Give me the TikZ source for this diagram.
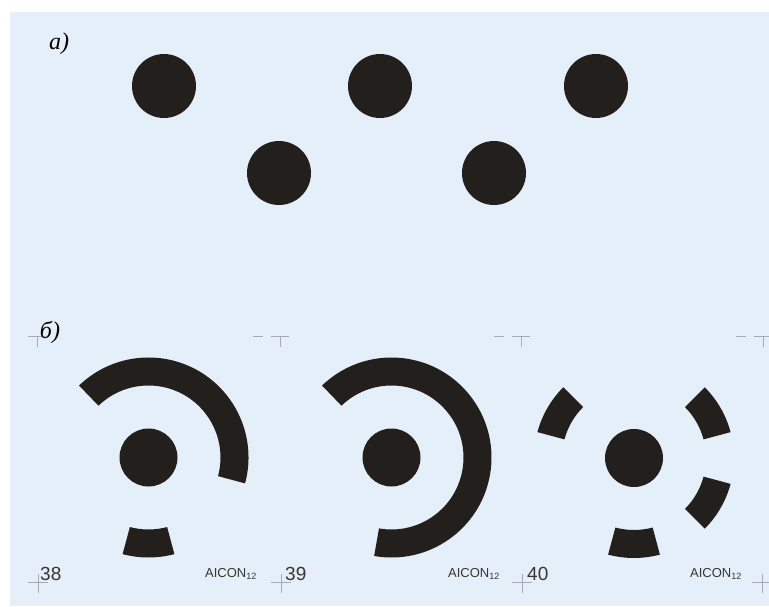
\documentclass[tikz,border=0pt]{standalone}
\usepackage{fontspec}
\setmainfont{Liberation Serif}
\newfontfamily\labfont{Liberation Sans}
\definecolor{bgblue}{RGB}{228,239,249}
\definecolor{ink}{RGB}{35,31,28}
\definecolor{markgray}{RGB}{165,172,180}
\tikzset{
  dot/.style={fill=ink},
  regmark/.style={draw=markgray, line width=0.8pt},
  partlabel/.style={font=\fontsize{24}{24}\selectfont\itshape, inner sep=0pt},
  numlabel/.style={font=\labfont\fontsize{19}{19}\selectfont, inner sep=0pt, anchor=base west, text=ink!90},
  brand/.style={font=\labfont\fontsize{13}{13}\selectfont, inner sep=0pt, anchor=base west, text=ink!90},
}
\newcommand\annsec[3]{\fill[ink] ([shift={(#2:100pt)}]#1) arc[start angle=#2,end angle=#3,radius=100pt] -- ([shift={(#3:72pt)}]#1) arc[start angle=#3,end angle=#2,radius=72pt] -- cycle;}
\begin{document}
\begin{tikzpicture}[x=1pt,y=1pt]
\useasboundingbox (0,0) rectangle (769,606);
\fill[bgblue] (10,0) rectangle (769,594);
% registration marks top
\coordinate (t1) at (37,270);
\coordinate (t2) at (280,270);
\coordinate (t3) at (521,270);
\coordinate (t4) at (763,270);
\foreach \t in {t1,t2,t3,t4}{
  \draw[regmark] ([xshift=-9]\t) -- ([xshift=9]\t) (\t) -- ([yshift=-11]\t);
}
\foreach \t in {t2,t3,t4}{
  \draw[regmark] ([xshift=-27]\t) -- ([xshift=-17]\t);
}
% registration marks bottom
\coordinate (b1) at (38,24);
\coordinate (b2) at (281,24);
\coordinate (b3) at (522,24);
\coordinate (b4) at (762,24);
\foreach \b in {b1,b2,b3,b4}{
  \draw[regmark] ([xshift=-10]\b) -- ([xshift=10]\b) ([yshift=8]\b) -- ([yshift=-11]\b);
}
% part a
\coordinate (a1) at (164,520);
\coordinate (a2) at (380,520);
\coordinate (a3) at (596,520);
\coordinate (a4) at (279,433);
\coordinate (a5) at (494,433);
\foreach \c in {a1,a2,a3,a4,a5}{ \fill[dot] (\c) circle[radius=32pt]; }
% part b
\coordinate (c38) at (148.5,148.5);
\coordinate (c39) at (391.5,148.5);
\coordinate (c40) at (634,148);
\foreach \c in {c38,c39,c40}{ \fill[dot] (\c) circle[radius=29pt]; }
% 38
\annsec{c38}{-15}{134}
\annsec{c38}{255}{285}
% 39
\annsec{c39}{-100}{134}
% 40
\annsec{c40}{135}{165}
\annsec{c40}{15}{45}
\annsec{c40}{-45}{-15}
\annsec{c40}{255}{285}
% labels
\node[partlabel] (la) at (59,562) {a)};
\node[partlabel] (lb) at (50,274) {б)};
\node[numlabel] (n38) at (40,26) {38};
\node[numlabel] (n39) at (285,26) {39};
\node[numlabel] (n40) at (527,26) {40};
\node[brand] (r38) at (205,29) {AICON\textsubscript{12}};
\node[brand] (r39) at (448,29) {AICON\textsubscript{12}};
\node[brand] (r40) at (690,29) {AICON\textsubscript{12}};
\end{tikzpicture}
\end{document}
